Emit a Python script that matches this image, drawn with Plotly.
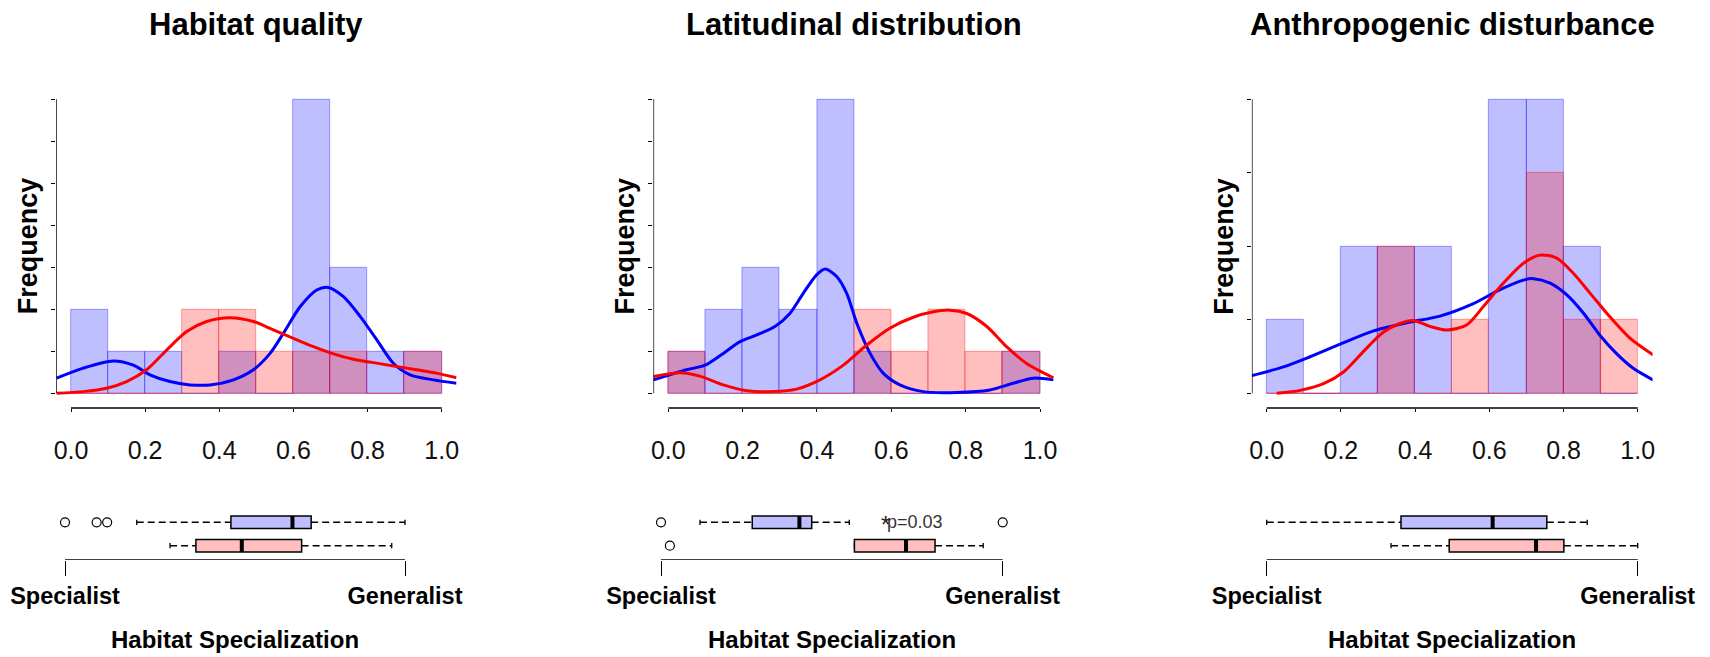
import plotly.graph_objects as go

# ---------------- data ----------------
TITLES = ["Habitat quality", "Latitudinal distribution", "Anthropogenic disturbance"]
BIN_CENTERS = [0.05, 0.15, 0.25, 0.35, 0.45, 0.55, 0.65, 0.75, 0.85, 0.95]
X_TICKS = [0.0, 0.2, 0.4, 0.6, 0.8, 1.0]
X_TICK_LABELS = ["0.0", "0.2", "0.4", "0.6", "0.8", "1.0"]
BRACKET_LABELS = ["Specialist", "Generalist"]
Y_LABEL = "Frequency"
X_LABEL = "Habitat Specialization"
FREQ_MAX = [7, 7, 4]

# histogram counts (blue group, red group)
HQ_BLUE = [2, 1, 1, 0, 1, 0, 7, 3, 1, 1]
HQ_RED = [0, 0, 0, 2, 2, 1, 1, 1, 0, 1]
LD_BLUE = [1, 2, 3, 2, 7, 1, 0, 0, 0, 1]
LD_RED = [1, 0, 0, 0, 0, 2, 1, 2, 1, 1]
AD_BLUE = [1, 0, 2, 2, 2, 0, 4, 4, 2, 0]
AD_RED = [0, 0, 0, 2, 0, 1, 0, 3, 1, 1]

# density curves (in frequency units)
HQ_BLUE_DX = [-0.039, 0.033, 0.114, 0.168, 0.213, 0.267, 0.321, 0.375, 0.438, 0.492, 0.537, 0.573,
              0.618, 0.663, 0.694, 0.735, 0.78, 0.825, 0.87, 0.915, 0.978, 1.04]
HQ_BLUE_DY = [0.36, 0.6, 0.77, 0.67, 0.44, 0.28, 0.2, 0.2, 0.32, 0.56, 0.95, 1.43,
              2.06, 2.46, 2.52, 2.3, 1.83, 1.27, 0.71, 0.44, 0.32, 0.24]
HQ_RED_DX = [-0.039, 0.033, 0.096, 0.15, 0.204, 0.258, 0.312, 0.366, 0.429, 0.492, 0.546, 0.6,
             0.654, 0.708, 0.762, 0.816, 0.87, 0.932, 0.986, 1.04]
HQ_RED_DY = [0.0, 0.04, 0.12, 0.28, 0.56, 1.03, 1.47, 1.71, 1.8, 1.71, 1.51, 1.31,
             1.11, 0.94, 0.81, 0.73, 0.65, 0.56, 0.48, 0.37]
LD_BLUE_DX = [-0.04, 0.004, 0.049, 0.099, 0.148, 0.193, 0.238, 0.287, 0.327, 0.363, 0.399, 0.422,
              0.453, 0.48, 0.507, 0.543, 0.578, 0.623, 0.686, 0.776, 0.865, 0.928, 0.982, 1.036]
LD_BLUE_DY = [0.32, 0.44, 0.56, 0.67, 0.95, 1.23, 1.39, 1.59, 1.9, 2.38, 2.82, 2.96,
              2.78, 2.38, 1.67, 0.95, 0.48, 0.2, 0.04, 0.02, 0.08, 0.24, 0.36, 0.32]
LD_RED_DX = [-0.04, 0.031, 0.085, 0.148, 0.211, 0.283, 0.345, 0.408, 0.471, 0.534, 0.596, 0.659,
             0.713, 0.758, 0.803, 0.857, 0.91, 0.964, 1.036]
LD_RED_DY = [0.4, 0.49, 0.41, 0.2, 0.06, 0.04, 0.1, 0.32, 0.67, 1.15, 1.55, 1.81,
             1.94, 1.98, 1.9, 1.59, 1.11, 0.71, 0.37]
AD_BLUE_DX = [-0.04, 0.045, 0.108, 0.198, 0.288, 0.377, 0.467, 0.557, 0.629, 0.692, 0.719, 0.764,
              0.809, 0.854, 0.898, 0.943, 0.988, 1.042]
AD_BLUE_DY = [0.24, 0.36, 0.48, 0.67, 0.85, 0.96, 1.05, 1.22, 1.41, 1.54, 1.56, 1.5,
              1.34, 1.09, 0.79, 0.54, 0.34, 0.18]
AD_RED_DX = [0.027, 0.09, 0.153, 0.207, 0.261, 0.314, 0.359, 0.395, 0.44, 0.485, 0.539, 0.584,
             0.629, 0.692, 0.737, 0.782, 0.827, 0.872, 0.925, 0.979, 1.042]
AD_RED_DY = [0.0, 0.04, 0.13, 0.29, 0.57, 0.83, 0.95, 0.99, 0.91, 0.86, 0.93, 1.18,
             1.45, 1.77, 1.88, 1.84, 1.63, 1.36, 1.04, 0.75, 0.52]

# boxplot stats: [lower whisker, Q1, median, Q3, upper whisker]
HQ_BLUE_BOX = [0.211, 0.488, 0.669, 0.724, 1.0]
HQ_BLUE_OUT = [0.0, 0.093, 0.124]
HQ_RED_BOX = [0.309, 0.385, 0.52, 0.696, 0.961]
HQ_RED_OUT = []
LD_BLUE_BOX = [0.114, 0.267, 0.405, 0.441, 0.551]
LD_BLUE_OUT = [0.0, 1.0]
LD_RED_BOX = [0.566, 0.566, 0.717, 0.802, 0.943]
LD_RED_OUT = [0.026]
AD_BLUE_BOX = [0.0, 0.362, 0.609, 0.755, 0.864]
AD_BLUE_OUT = []
AD_RED_BOX = [0.335, 0.492, 0.726, 0.801, 1.0]
AD_RED_OUT = []
P_TEXT = "p=0.03"

PANELS = [
    dict(blue=HQ_BLUE, red=HQ_RED, bdx=HQ_BLUE_DX, bdy=HQ_BLUE_DY, rdx=HQ_RED_DX, rdy=HQ_RED_DY,
         bbox=HQ_BLUE_BOX, bout=HQ_BLUE_OUT, rbox=HQ_RED_BOX, rout=HQ_RED_OUT),
    dict(blue=LD_BLUE, red=LD_RED, bdx=LD_BLUE_DX, bdy=LD_BLUE_DY, rdx=LD_RED_DX, rdy=LD_RED_DY,
         bbox=LD_BLUE_BOX, bout=LD_BLUE_OUT, rbox=LD_RED_BOX, rout=LD_RED_OUT),
    dict(blue=AD_BLUE, red=AD_RED, bdx=AD_BLUE_DX, bdy=AD_BLUE_DY, rdx=AD_RED_DX, rdy=AD_RED_DY,
         bbox=AD_BLUE_BOX, bout=AD_BLUE_OUT, rbox=AD_RED_BOX, rout=AD_RED_OUT),
]

# ---------------- layout geometry (window pixels) ----------------
WIN_W, WIN_H = 1710, 657
OFF = 8                         # default page body margin
W, H = WIN_W - OFF, WIN_H - OFF
HX0 = [71.0, 668.3, 1266.7]     # pixel of x=0 on histogram axis
HX1 = [441.7, 1040.0, 1637.7]   # pixel of x=1
BX0 = [65.0, 661.0, 1266.7]     # pixel of 0 on box axis
BX1 = [405.0, 1002.7, 1637.7]
HY0, HYTOP, HYBOT = 393.3, 99.3, 408.0
BOX_TOP, BOX_BOT = 500.0, 560.0
ROW_BLUE, ROW_RED = 560 - 522.3, 560 - 545.7
HALF = 6.3
CAP = 2.6

FONT = "Liberation Sans, Arial, sans-serif"
BLUE_FILL = "rgba(0,0,255,0.25)"
RED_FILL = "rgba(255,0,0,0.25)"
BOX_BLUE = "#BFBFFF"
BOX_RED = "#FFBFBF"

fig = go.Figure()
layout = dict(template="none", width=W, height=H, margin=dict(l=0, r=0, t=0, b=0, pad=0),
              autosize=False,
              paper_bgcolor="white", plot_bgcolor="rgba(0,0,0,0)",
              showlegend=False, barmode="overlay", bargap=0,
              font=dict(family=FONT, color="black"))
shapes = []
annotations = []


def fx(px):
    return (px - OFF) / W


def fy(py):
    return 1 - (py - OFF) / H


for p, d in enumerate(PANELS):
    hx, hy = 2 * p + 1, 2 * p + 1
    bx, by = 2 * p + 2, 2 * p + 2
    xs = "x" if hx == 1 else f"x{hx}"
    ys = "y" if hy == 1 else f"y{hy}"
    bxs, bys = f"x{bx}", f"y{by}"

    span = HX1[p] - HX0[p]
    unit = (HY0 - HYTOP) / FREQ_MAX[p]
    ybot = -(HYBOT - HY0) / unit

    # blue histogram, blue curve, red histogram, red curve
    fig.add_trace(go.Bar(x=BIN_CENTERS, y=d["blue"], width=0.1, xaxis=xs, yaxis=ys,
                         marker=dict(color=BLUE_FILL, line=dict(color="rgba(0,0,255,0.35)", width=1))))
    fig.add_trace(go.Scatter(x=d["bdx"], y=d["bdy"], mode="lines", xaxis=xs, yaxis=ys,
                             line=dict(color="#0000FF", width=3, shape="spline", smoothing=0.8)))
    fig.add_trace(go.Bar(x=BIN_CENTERS, y=d["red"], width=0.1, xaxis=xs, yaxis=ys,
                         marker=dict(color=RED_FILL, line=dict(color="rgba(255,0,0,0.35)", width=1))))
    fig.add_trace(go.Scatter(x=d["rdx"], y=d["rdy"], mode="lines", xaxis=xs, yaxis=ys,
                             line=dict(color="#FF0000", width=3, shape="spline", smoothing=0.8)))

    layout[f"xaxis{hx}" if hx > 1 else "xaxis"] = dict(
        domain=[fx(HX0[p] - 0.04 * span), fx(HX0[p] + 1.04 * span)], range=[-0.04, 1.04],
        anchor=ys, automargin=False, showgrid=False, zeroline=False, showline=False,
        tickmode="array", tickvals=X_TICKS, ticktext=X_TICK_LABELS,
        ticks="outside", ticklen=3, tickwidth=1.4, tickcolor="black",
        ticklabelstandoff=17, tickfont=dict(size=25, color="#111"))
    layout[f"yaxis{hy}" if hy > 1 else "yaxis"] = dict(
        domain=[fy(HYBOT), fy(HYTOP - 1.5)], range=[ybot, FREQ_MAX[p] + 1.5 / unit],
        anchor=xs, automargin=False, showgrid=False, zeroline=False, showline=False,
        tickmode="array", tickvals=list(range(FREQ_MAX[p] + 1)), showticklabels=False,
        ticks="outside", ticklen=4, tickwidth=1.4, tickcolor="black")
    # axis lines (R style: only between first and last tick)
    shapes.append(dict(type="line", xref=xs, yref=f"{ys} domain", x0=0, x1=1, y0=0, y1=0,
                       line=dict(color="black", width=1.4)))
    shapes.append(dict(type="line", xref=xs, yref=ys, x0=-0.04, x1=-0.04, y0=0, y1=FREQ_MAX[p],
                       line=dict(color="black", width=1.4)))

    # box axes
    bspan = BX1[p] - BX0[p]
    layout[f"xaxis{bx}"] = dict(
        domain=[fx(BX0[p] - 0.04 * bspan), fx(BX0[p] + 1.04 * bspan)], range=[-0.04, 1.04],
        anchor=bys, automargin=False, showgrid=False, zeroline=False, showline=False,
        tickmode="array", tickvals=[0, 1], ticktext=[f"<b>{t}</b>" for t in BRACKET_LABELS],
        ticks="outside", ticklen=15, tickwidth=1.4, tickcolor="black",
        ticklabelstandoff=0, tickfont=dict(size=23.5, color="black"))
    layout[f"yaxis{by}"] = dict(
        domain=[fy(BOX_BOT), fy(BOX_TOP)], range=[0, BOX_BOT - BOX_TOP],
        anchor=bxs, automargin=False, showgrid=False, zeroline=False, showline=False,
        showticklabels=False, ticks="")
    shapes.append(dict(type="line", xref=bxs, yref=bys, x0=0, x1=1, y0=0, y1=0,
                       line=dict(color="black", width=1.4)))

    for stats, outs, row, fill in [(d["bbox"], d["bout"], ROW_BLUE, BOX_BLUE),
                                   (d["rbox"], d["rout"], ROW_RED, BOX_RED)]:
        lo, q1, med, q3, hi = stats
        for a, b in [(lo, q1), (q3, hi)]:
            if b > a:
                shapes.append(dict(type="line", xref=bxs, yref=bys, x0=a, x1=b, y0=row, y1=row,
                                   line=dict(color="black", width=1.4, dash="7px,4px")))
        for c in [lo, hi]:
            shapes.append(dict(type="line", xref=bxs, yref=bys, x0=c, x1=c, y0=row - CAP, y1=row + CAP,
                               line=dict(color="black", width=1.3)))
        shapes.append(dict(type="rect", xref=bxs, yref=bys, x0=q1, x1=q3, y0=row - HALF, y1=row + HALF,
                           fillcolor=fill, line=dict(color="black", width=1.5)))
        shapes.append(dict(type="line", xref=bxs, yref=bys, x0=med, x1=med, y0=row - HALF, y1=row + HALF,
                           line=dict(color="black", width=4)))
        if outs:
            fig.add_trace(go.Scatter(x=outs, y=[row] * len(outs), mode="markers", xaxis=bxs, yaxis=bys,
                                     marker=dict(symbol="circle-open", size=9, color="black",
                                                 line=dict(width=1.2, color="black"))))

    # titles and labels
    annotations.append(dict(text=f"<b>{TITLES[p]}</b>", xref="paper", yref="paper",
                            x=fx((HX0[p] + HX1[p]) / 2), y=fy(25), xanchor="center", yanchor="middle",
                            showarrow=False, font=dict(size=31, color="black")))
    annotations.append(dict(text=f"<b>{Y_LABEL}</b>", xref="paper", yref="paper",
                            x=fx(HX0[p] - 0.04 * span - 28), y=fy(246), textangle=-90,
                            xanchor="center", yanchor="middle", showarrow=False,
                            font=dict(size=27, color="black")))
    annotations.append(dict(text=f"<b>{X_LABEL}</b>", xref=bxs, yref="paper",
                            x=0.5, y=fy(639), xanchor="center", yanchor="middle",
                            showarrow=False, font=dict(size=24, color="black")))

# significance label in panel 2
annotations.append(dict(text="*", xref="x4", yref="y4", x=0.658, y=ROW_BLUE - 2,
                        xanchor="center", yanchor="middle", showarrow=False,
                        font=dict(size=24, color="#222")))
annotations.append(dict(text=P_TEXT, xref="x4", yref="y4", x=0.657, y=ROW_BLUE,
                        xanchor="left", yanchor="middle", showarrow=False,
                        font=dict(size=18, color="#333")))

layout["shapes"] = shapes
layout["annotations"] = annotations
fig.update_layout(**layout)
fig.write_html("out.html")
